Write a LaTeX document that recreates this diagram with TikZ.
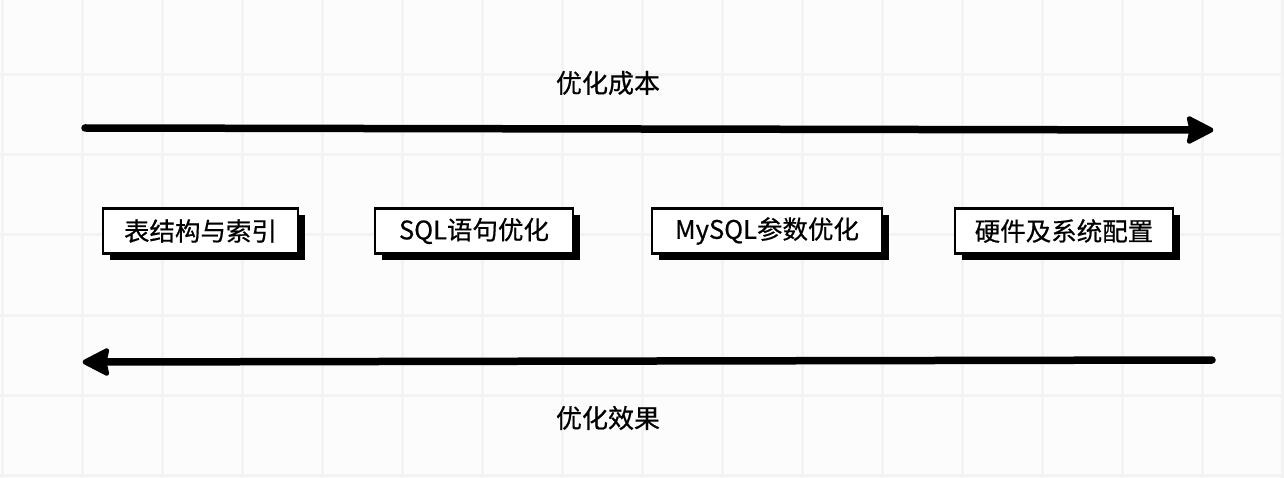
\documentclass[tikz,border=0pt]{standalone}
\usepackage{fontspec}
\newfontfamily\cjk{Noto Sans CJK SC}[FakeBold=0.6]
\usepackage{xcolor}
\definecolor{paper}{HTML}{FCFCFC}
\definecolor{gridcol}{HTML}{F3F3F3}
\usetikzlibrary{arrows.meta, positioning, shadows}

\begin{document}
\begin{tikzpicture}[
  x=1pt, y=-1pt,
  stage/.style={draw=black, line width=2.8pt, fill=white, minimum height=45pt,
                inner xsep=10pt, font=\cjk\fontsize{25.5}{27}\selectfont,
                general shadow={fill=black, shadow xshift=6.5pt, shadow yshift=-7pt}},
  flow/.style={line width=7.5pt, line cap=round},
  tip/.style={fill=black, draw=black, line width=3pt, line join=round,
              rounded corners=2pt},
  caption/.style={font=\cjk\fontsize{26}{28}\selectfont}
]
\useasboundingbox[fill=paper] (0,0) rectangle (1284,478);
\foreach \gx in {2,82,...,1282}
  \draw[gridcol, line width=3pt] (\gx,0) -- (\gx,478);
\foreach \gy in {75,155,...,475}
  \draw[gridcol, line width=3pt] (0,\gy) -- (1284,\gy);

\node[stage, minimum width=195pt] (schema) at (200.5,231) {表结构与索引};
\node[stage, minimum width=198pt] (sql) at (474,231) {SQL语句优化};
\node[stage, minimum width=230pt] (param) at (767,231) {MySQL参数优化};
\node[stage, minimum width=218pt] (hw) at (1064,231) {硬件及系统配置};

% cost arrow, left to right
\coordinate (costL) at (85,128);
\coordinate (costR) at (1195,130);
\coordinate (costTip) at (1213,130);
\draw[flow] (costL) -- (costR);
\fill[tip] (costTip) -- ++(-25,-13) -- ++(3,13) -- ++(-3,13) -- cycle;
\node[caption] (cost) at (608,83) {优化成本};

% gain arrow, right to left
\coordinate (gainR) at (1212,360);
\coordinate (gainL) at (100,362);
\coordinate (gainTip) at (83,362);
\draw[flow] (gainR) -- (gainL);
\fill[tip] (gainTip) -- ++(25,-13) -- ++(-3,13) -- ++(3,13) -- cycle;
\node[caption] (gain) at (608,418) {优化效果};
\end{tikzpicture}
\end{document}
